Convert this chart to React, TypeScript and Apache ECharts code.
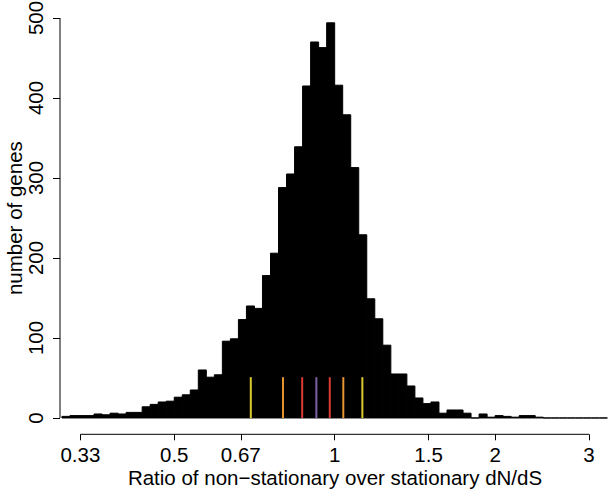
import React, { useEffect, useRef } from "react";
import * as echarts from "echarts";

// Histogram of log2(ratio) with bins of width 0.05 starting at -1.7
const binStartLog2 = -1.7;
const binWidthLog2 = 0.05;
const geneCounts = [
  2, 3, 3, 3, 5, 4, 6, 5, 7, 7, 14, 17, 20, 21, 26, 29, 35, 60, 51, 54,
  96, 99, 123, 140, 137, 178, 206, 288, 305, 339, 415, 470, 463, 494,
  416, 379, 313, 229, 149, 124, 91, 55, 55, 40, 25, 18, 20, 6, 10, 10,
  6, 0, 5, 1, 3, 2, 1, 3, 3, 1, 0, 0, 0, 0, 0, 0, 0, 0,
];

// x-axis tick ratios and labels
const xTickRatios = [1 / 3, 0.5, 2 / 3, 1, 1.5, 2, 3];
const xTickLabels = ["0.33", "0.5", "0.67", "1", "1.5", "2", "3"];

// y-axis ticks
const yTicks = [0, 100, 200, 300, 400, 500];

// coloured quantile markers (ratio values) and colours
const markerRatios = [0.696, 0.8, 0.869, 0.924, 0.979, 1.038, 1.127];
const markerColors = ["#D9CB2B", "#E8952F", "#DA3B33", "#7D5FA6", "#DA3B33", "#E8952F", "#D9CB2B"];
const markerHeight = 51;

const X_MIN = -1.712;
const X_MAX = 1.716;
const Y_MIN = -20.4;
const Y_MAX = 520;

const FONT = "'Liberation Sans', Arial, Helvetica, sans-serif";

export default function App() {
  const ref = useRef<HTMLDivElement>(null);

  useEffect(() => {
    if (!ref.current) return;
    const chart = echarts.init(ref.current, null, { renderer: "svg" });

    const bars = geneCounts.map((c, i) => [
      binStartLog2 + i * binWidthLog2,
      binStartLog2 + (i + 1) * binWidthLog2,
      c,
    ]);
    const markers = markerRatios.map((r, i) => [Math.log2(r), markerHeight, i]);
    const xTickVals = xTickRatios.map((r) => Math.log2(r));

    const option: any = {
      animation: false,
      backgroundColor: "#ffffff",
      grid: {
        left: 60,
        right: 0,
        top: 2,
        bottom: 64.7,
        containLabel: false,
        outerBoundsMode: "none",
      },
      xAxis: {
        type: "value",
        min: X_MIN,
        max: X_MAX,
        name: "Ratio of non\u2212stationary over stationary dN/dS",
        nameLocation: "middle",
        nameGap: 33,
        nameMoveOverlap: false,
        nameTextStyle: { fontFamily: FONT, fontSize: 20.5, color: "#000" },
        axisLine: { show: false, onZero: false },
        splitLine: { show: false },
        axisTick: {
          show: true,
          length: 6,
          customValues: xTickVals,
          lineStyle: { color: "#000", width: 1 },
        },
        axisLabel: {
          show: true,
          customValues: xTickVals,
          margin: 10,
          fontFamily: FONT,
          fontSize: 20.5,
          color: "#000",
          formatter: (v: number) => {
            let best = 0;
            let bd = Infinity;
            xTickVals.forEach((t, i) => {
              const d = Math.abs(t - v);
              if (d < bd) {
                bd = d;
                best = i;
              }
            });
            return xTickLabels[best];
          },
        },
      },
      yAxis: {
        type: "value",
        min: Y_MIN,
        max: Y_MAX,
        name: "number of genes",
        nameLocation: "middle",
        nameGap: 35,
        nameMoveOverlap: false,
        nameRotate: 90,
        nameTextStyle: { fontFamily: FONT, fontSize: 20.5, color: "#000" },
        axisLine: { show: false, onZero: false },
        splitLine: { show: false },
        axisTick: {
          show: true,
          length: 7,
          customValues: yTicks,
          lineStyle: { color: "#000", width: 1 },
        },
        axisLabel: {
          show: true,
          customValues: yTicks,
          rotate: 90,
          margin: 14,
          fontFamily: FONT,
          fontSize: 20.5,
          color: "#000",
        },
      },
      series: [
        {
          type: "custom",
          data: bars,
          encode: { x: [0, 1], y: 2 },
          clip: false,
          renderItem: (params: any, api: any) => {
            const p0 = api.coord([api.value(0), 0]);
            const p1 = api.coord([api.value(1), api.value(2)]);
            return {
              type: "rect",
              shape: { x: p0[0], y: p1[1], width: p1[0] - p0[0], height: p0[1] - p1[1] },
              style: { fill: "#000", stroke: "#000", lineWidth: 1 },
            };
          },
        },
        {
          type: "custom",
          data: markers,
          encode: { x: 0, y: 1 },
          clip: false,
          z: 5,
          renderItem: (params: any, api: any) => {
            const p0 = api.coord([api.value(0), 0]);
            const p1 = api.coord([api.value(0), api.value(1)]);
            return {
              type: "line",
              shape: { x1: p0[0], y1: p0[1], x2: p1[0], y2: p1[1] },
              style: { stroke: markerColors[api.value(2)], lineWidth: 2 },
            };
          },
        },
        {
          // x axis line, spanning first to last tick
          type: "line",
          data: [
            [xTickVals[0], Y_MIN],
            [xTickVals[xTickVals.length - 1], Y_MIN],
          ],
          symbol: "none",
          clip: false,
          silent: true,
          lineStyle: { color: "#000", width: 1 },
        },
        {
          // y axis line, spanning first to last tick
          type: "line",
          data: [
            [X_MIN, yTicks[0]],
            [X_MIN, yTicks[yTicks.length - 1]],
          ],
          symbol: "none",
          clip: false,
          silent: true,
          lineStyle: { color: "#000", width: 1 },
        },
      ],
    };

    chart.setOption(option);
    return () => chart.dispose();
  }, []);

  return (
    <div
      ref={ref}
      style={{ position: "absolute", left: 0, top: 0, width: 610, height: 499, background: "#fff" }}
    />
  );
}
